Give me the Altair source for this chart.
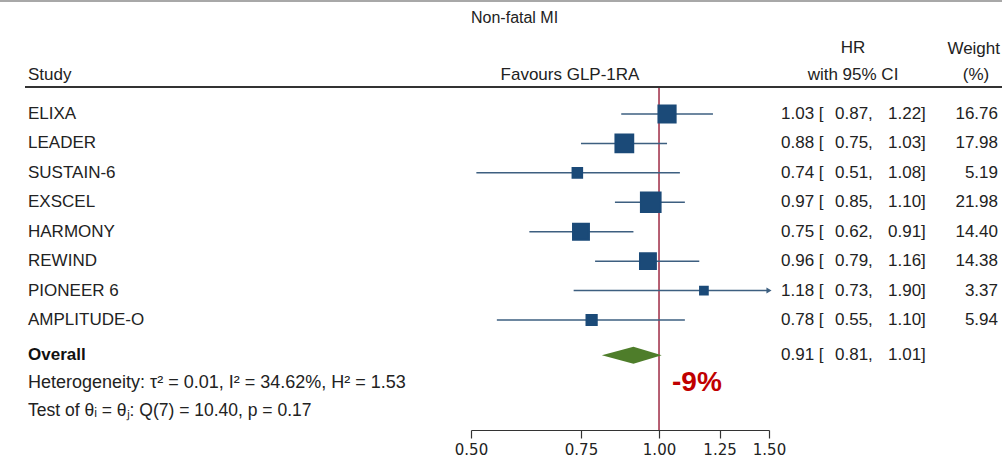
import altair as alt
import pandas as pd

# ---- data ----
studies = ["ELIXA", "LEADER", "SUSTAIN-6", "EXSCEL", "HARMONY", "REWIND", "PIONEER 6", "AMPLITUDE-O"]
hr = [1.03, 0.88, 0.74, 0.97, 0.75, 0.96, 1.18, 0.78]
ci_low = [0.87, 0.75, 0.51, 0.85, 0.62, 0.79, 0.73, 0.55]
ci_high = [1.22, 1.03, 1.08, 1.10, 0.91, 1.16, 1.90, 1.10]
weights = [16.76, 17.98, 5.19, 21.98, 14.40, 14.38, 3.37, 5.94]

overall_hr = 0.91
overall_low = 0.81
overall_high = 1.01

axis_ticks = [0.50, 0.75, 1.00, 1.25, 1.50]
heterogeneity = "Heterogeneity: \u03c4\u00b2 = 0.01, I\u00b2 = 34.62%, H\u00b2 = 1.53"
homogeneity_test = "Test of \u03b8\u1d62 = \u03b8\u2c7c: Q(7) = 10.40, p = 0.17"

# ---- styling ----
FONT = "Liberation Sans"
FS = 17
TXT = "#222222"
NAVY = "#1b4a78"
CI_COL = "#3d5f80"
NULL_COL = "#9e2a44"
DIAMOND = "#4e7d2a"

x_min, x_max = axis_ticks[0], axis_ticks[-1]
overall_row = 8.2

x_scale = alt.Scale(type="log", domain=[x_min, x_max], range=[471, 769], nice=False, zero=False)
y_scale = alt.Scale(domain=[0, 7], range=[114, 320], nice=False, zero=False)
x_axis = alt.Axis(
    values=axis_ticks, format=".2f", title=None, grid=False,
    domainColor="#333333", domainWidth=1.2, tickColor="#333333", tickWidth=1.2,
    tickSize=8, labelFont="DejaVu Sans", labelFontSize=15, labelColor=TXT, labelPadding=4,
    labelFlush=False,
)

rows = list(range(len(studies)))
df = pd.DataFrame({
    "study": studies,
    "row": rows,
    "hr": hr,
    "lo": ci_low,
    "hi": ci_high,
    "hi_drawn": [min(h, x_max) for h in ci_high],
    "weight": weights,
})
df["est_txt"] = [f"{v:.2f} [" for v in hr]
df["lo_txt"] = [f"{v:.2f}," for v in ci_low]
df["hi_txt"] = [f"{v:.2f}]" for v in ci_high]
df["w_txt"] = [f"{w:.2f}" for w in weights]

X = lambda f: alt.X(f, type="quantitative", scale=x_scale, axis=x_axis, title=None)
Y = lambda f: alt.Y(f, type="quantitative", scale=y_scale, axis=None)


def label(text, x, y, align="left", size=FS, weight="normal", color=TXT, font=FONT):
    return alt.Chart(pd.DataFrame({"t": [text]})).mark_text(
        align=align, baseline="middle", font=font, fontSize=size,
        fontWeight=weight, color=color,
    ).encode(x=alt.value(x), y=alt.value(y), text="t:N")


def column(data, field, x, align="left", weight="normal", color=TXT):
    return alt.Chart(data).mark_text(
        align=align, baseline="middle", font=FONT, fontSize=FS, fontWeight=weight, color=color,
    ).encode(x=alt.value(x), y=Y("row"), text=f"{field}:N")


base = alt.Chart(df)

ci_lines = base.mark_rule(color=CI_COL, strokeWidth=1.5).encode(
    x=X("lo"), x2="hi_drawn", y=Y("row"),
)

arrows = alt.Chart(df[df["hi"] > x_max]).mark_point(
    shape="triangle-right", filled=True, color=CI_COL, size=35, opacity=1,
).encode(x=X("hi_drawn"), y=Y("row"))

squares = base.mark_square(filled=True, color=NAVY, stroke=NAVY, strokeWidth=2, opacity=1).encode(
    x=X("hr"), y=Y("row"),
    size=alt.Size("weight:Q", scale=alt.Scale(domain=[0, 22], range=[0, 22 * 17.6]), legend=None),
)

half_h = 0.29
diamond_df = pd.DataFrame({
    "x": [overall_low, overall_hr, overall_high],
    "y1": [overall_row, overall_row - half_h, overall_row],
    "y2": [overall_row, overall_row + half_h, overall_row],
})
diamond = alt.Chart(diamond_df).mark_area(color=DIAMOND, opacity=1).encode(
    x=X("x"), y=Y("y1"), y2="y2",
)

null_line = alt.Chart(pd.DataFrame({"v": [1.0]})).mark_rule(color=NULL_COL, strokeWidth=1.5).encode(
    x=X("v"), y=alt.value(88), y2=alt.value(430),
)

header_rule = alt.Chart(pd.DataFrame({"a": [0]})).mark_rule(color="#333333", strokeWidth=2).encode(
    x=alt.value(25), x2=alt.value(1002), y=alt.value(87),
)
top_rule = alt.Chart(pd.DataFrame({"a": [0]})).mark_rule(color="#a8a8a8", strokeWidth=2).encode(
    x=alt.value(0), x2=alt.value(1002), y=alt.value(1),
)

overall_df = pd.DataFrame({
    "row": [overall_row],
    "name": ["Overall"],
    "est_txt": [f"{overall_hr:.2f} ["],
    "lo_txt": [f"{overall_low:.2f},"],
    "hi_txt": [f"{overall_high:.2f}]"],
})

text_cols = [
    column(df, "study", 28),
    column(df, "est_txt", 781),
    column(df, "lo_txt", 835),
    column(df, "hi_txt", 888),
    column(df, "w_txt", 998, align="right"),
    column(overall_df, "name", 28, weight="bold", color="#111111"),
    column(overall_df, "est_txt", 781),
    column(overall_df, "lo_txt", 835),
    column(overall_df, "hi_txt", 888),
]

change_pct = round((overall_hr - 1) * 100)

texts = [
    label("Non-fatal MI", 471, 18, size=16),
    label("Study", 28, 75),
    label("Favours GLP-1RA", 570, 75, align="center"),
    label("HR", 853, 48, align="center"),
    label("with 95% CI", 853, 75, align="center"),
    label("Weight", 1000, 49, align="right"),
    label("(%)", 976, 75, align="center"),
    label(heterogeneity, 28, 383, size=18),
    label(homogeneity_test, 28, 411, size=17.5),
    label(f"{change_pct}%", 672, 383, size=28, weight="bold", color="#c00000"),
]

chart = alt.layer(
    top_rule, header_rule, null_line, ci_lines, arrows, squares, diamond,
    *text_cols, *texts,
).properties(
    width=1002, height=430,
    autosize=alt.AutoSizeParams(type="none"),
    padding={"left": 0, "top": 0, "right": 0, "bottom": 31},
    background="white",
).configure_view(stroke=None)

chart.save("out.html", embed_options={"renderer": "svg", "actions": False})
